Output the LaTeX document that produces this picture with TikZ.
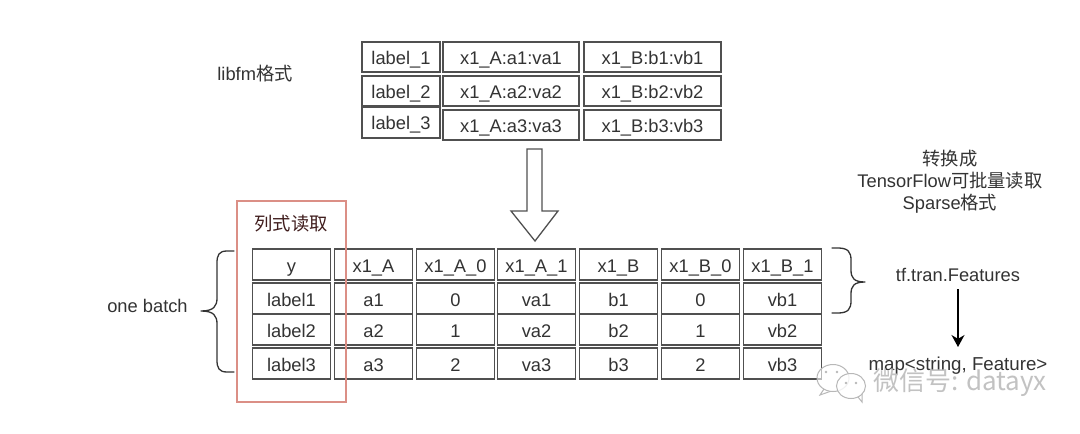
\documentclass[tikz,border=0pt]{standalone}
\usepackage{fontspec}
\setmainfont{Liberation Sans}
\newfontfamily\cjk{Noto Sans CJK SC}
\usetikzlibrary{arrows.meta}
\definecolor{inkc}{HTML}{333333}
\definecolor{edgec}{HTML}{505050}
\definecolor{redboxc}{HTML}{DB8F86}
\definecolor{wmc}{HTML}{B8B8B8}
\tikzset{
  cell/.style={draw=edgec,line width=1.4pt,inner sep=0pt,outer sep=0pt,text=inkc,font=\fontsize{18.3}{22}\selectfont,minimum height=#1,text depth=0pt},
  cell/.default=31pt,
  toplab/.style={cell=30pt,minimum width=78pt,text height=14pt},
  topcol/.style={cell=30pt,minimum width=136pt,text height=14.5pt},
  lowcell/.style={cell=31pt,minimum width=78pt,text height=16pt},
  txt/.style={inner sep=0pt,text=inkc,font=\fontsize{18.3}{22}\selectfont,align=center},
  bracepath/.style={draw=inkc,line width=1.3pt,line cap=round},
}
\begin{document}
\begin{tikzpicture}[x=1pt,y=-1pt]
\fill[white] (0,0) rectangle (1080,434);
\useasboundingbox (0,0) rectangle (1080,434);

% libfm table
\node[txt] (libfm) at (255,74) {libfm\cjk 格式};
\node[toplab] (l1) at (401,57) {label\_1};
\node[toplab] (l2) at (401,91) {label\_2};
\node[toplab,minimum height=31pt,text height=13pt] (l3) at (401,122.5) {label\_3};
\node[topcol] (a1) at (511,57) {x1\_A:a1:va1};
\node[topcol] (a2) at (511,91) {x1\_A:a2:va2};
\node[topcol] (a3) at (511,125) {x1\_A:a3:va3};
\node[topcol,minimum width=137pt] (b1) at (652.5,57) {x1\_B:b1:vb1};
\node[topcol,minimum width=137pt] (b2) at (652.5,91) {x1\_B:b2:vb2};
\node[topcol,minimum width=137pt] (b3) at (652.5,125) {x1\_B:b3:vb3};

% hollow arrow
\draw[draw=edgec,line width=1.3pt,line join=miter,fill=white]
  (527,149) -- (542,149) -- (542,211) -- (558,211) -- (535,241) -- (511,211) -- (527,211) -- cycle;

% red frame and its title
\node[txt,text=inkc!80!red!70!black] (title) at (291,224) {\cjk 列式读取};

% lower table
\node[lowcell] (h1) at (291.5,264.5) {y};
\node[lowcell] (h2) at (373.5,264.5) {x1\_A};
\node[lowcell] (h3) at (455.5,264.5) {x1\_A\_0};
\node[lowcell] (h4) at (536.5,264.5) {x1\_A\_1};
\node[lowcell] (h5) at (618.5,264.5) {x1\_B};
\node[lowcell] (h6) at (700.5,264.5) {x1\_B\_0};
\node[lowcell] (h7) at (782.5,264.5) {x1\_B\_1};

\node[lowcell] (r11) at (291.5,298.5) {label1};
\node[lowcell] (r12) at (373.5,298.5) {a1};
\node[lowcell] (r13) at (455.5,298.5) {0};
\node[lowcell] (r14) at (536.5,298.5) {va1};
\node[lowcell] (r15) at (618.5,298.5) {b1};
\node[lowcell] (r16) at (700.5,298.5) {0};
\node[lowcell] (r17) at (782.5,298.5) {vb1};

\node[lowcell] (r21) at (291.5,329.5) {label2};
\node[lowcell] (r22) at (373.5,329.5) {a2};
\node[lowcell] (r23) at (455.5,329.5) {1};
\node[lowcell] (r24) at (536.5,329.5) {va2};
\node[lowcell] (r25) at (618.5,329.5) {b2};
\node[lowcell] (r26) at (700.5,329.5) {1};
\node[lowcell] (r27) at (782.5,329.5) {vb2};

\node[lowcell] (r31) at (291.5,363.5) {label3};
\node[lowcell] (r32) at (373.5,363.5) {a3};
\node[lowcell] (r33) at (455.5,363.5) {2};
\node[lowcell] (r34) at (536.5,363.5) {va3};
\node[lowcell] (r35) at (618.5,363.5) {b3};
\node[lowcell] (r36) at (700.5,363.5) {2};
\node[lowcell] (r37) at (782.5,363.5) {vb3};

\draw[draw=redboxc,line width=2pt] (237,201) rectangle (346,402);

% left brace
\node[txt] (batch) at (147.5,306) {one batch};
\draw[bracepath] (234,251) -- (227,251) .. controls (219,251) and (217,255) .. (217,263)
  -- (217,298) .. controls (217,306) and (214,311) .. (201,311)
  (201,311) .. controls (214,311) and (217,316) .. (217,324)
  -- (217,360) .. controls (217,368) and (219,372) .. (227,372) -- (234,372);

% right brace
\draw[bracepath] (832,248) -- (838,248) .. controls (848,248) and (851,252) .. (851,260)
  -- (851,270) .. controls (851,278) and (854,282) .. (865,282)
  (865,282) .. controls (854,282) and (851,286) .. (851,294)
  -- (851,301) .. controls (851,309) and (848,313) .. (838,313) -- (832,313);

% right-hand texts
\node[txt] (conv) at (950,182) {\cjk 转换成\\[0pt]TensorFlow\cjk 可批量读取\\[0pt]Sparse\cjk 格式};
\node[txt] (feat) at (958,275) {tf.tran.Features};
\node[txt,font=\fontsize{18.7}{22}\selectfont] (mapn) at (958,366) {map<string, Feature>};
\draw[-{Stealth[length=12pt,width=13pt]},draw=black,line width=1.3pt] (feat.south |- 0,289) -- (mapn.north |- 0,347);

% watermark
\begin{scope}[draw=wmc,line width=1pt]
  \draw[fill=white,fill opacity=0.6] (833,378) ellipse (16pt and 13.5pt);
  \draw (824,389) -- (820,395) -- (830,391.5);
  \draw[fill=white,fill opacity=0.8] (851,386) ellipse (14.5pt and 12.5pt);
  \draw (858,397) -- (862,402) -- (862,394);
  \fill[wmc] (826,372) circle (1.3pt) (837,372) circle (1.3pt) (846,383) circle (1.3pt) (856,383) circle (1.3pt);
\end{scope}
\node[inner sep=0pt,anchor=west,text=wmc,text opacity=0.85,font=\cjk\fontsize{26}{30}\selectfont] (wm) at (873,383) {微信号: datayx};
\end{tikzpicture}
\end{document}
